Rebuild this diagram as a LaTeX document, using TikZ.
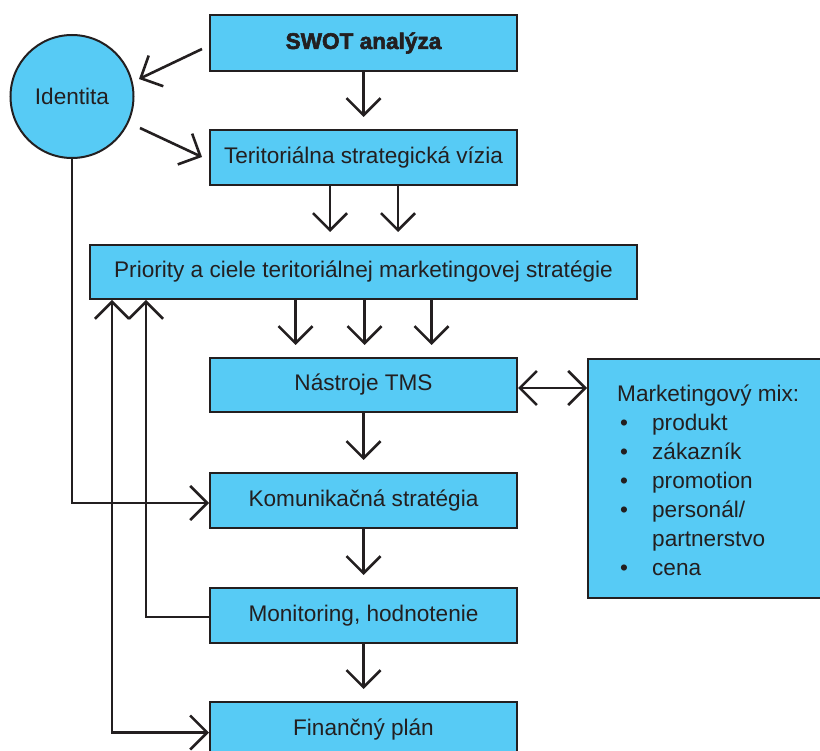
\documentclass[tikz,border=0pt]{standalone}
\usepackage{fontspec}
\setmainfont{Liberation Sans}
\newfontfamily\heavysans{Liberation Sans Bold}[FakeBold=2.5]
\usetikzlibrary{arrows.meta,calc}
\definecolor{boxfill}{RGB}{87,203,245}
\definecolor{ink}{RGB}{35,31,32}
\tikzset{
  box/.style={draw=ink, line width=2pt, fill=boxfill, rectangle, inner sep=0pt,
    minimum width=307pt, minimum height=55pt, text=ink,
    font=\fontsize{22.6}{27}\selectfont},
  conn/.style={draw=ink, line width=2.6pt},
  barb/.tip={Straight Barb[length=17pt,width=34pt,line width=2.6pt]},
  down/.style={conn, -barb, shorten >=12pt},
}
\begin{document}
\begin{tikzpicture}[x=1pt, y=-1pt]
\useasboundingbox (0,0) rectangle (820,751);

% main column of steps
\node[box, font=\fontsize{22.6}{27}\heavysans, minimum height=56pt] (swot) at (363.5,43) {SWOT analýza};
\node[box] (terit) at (363.5,157.5) {Teritoriálna strategická vízia};
\node[box, minimum width=547pt, minimum height=54pt] (prio) at (363.5,272) {Priority a ciele teritoriálnej marketingovej stratégie};
\node[box, minimum height=54pt] (nastr) at (363.5,385) {Nástroje TMS};
\node[box] (komun) at (363.5,500.5) {Komunikačná stratégia};
\node[box] (monit) at (363.5,615.5) {Monitoring, hodnotenie};
\node[box] (finan) at (363.5,729.5) {Finančný plán};

% identity circle
\node[box, circle, minimum size=123pt] (ident) at (72,96.5) {Identita};

% marketing mix panel
\node[box, minimum width=237pt, minimum height=239pt] (mix) at (706.5,478.5) {};
\node[anchor=west, align=left, inner sep=0pt, text=ink,
      font=\fontsize{22.6}{29}\selectfont] (mixtext) at (617,480)
  {Marketingový mix:\\
   \makebox[35pt][l]{\hspace{3pt}•}produkt\\
   \makebox[35pt][l]{\hspace{3pt}•}zákazník\\
   \makebox[35pt][l]{\hspace{3pt}•}promotion\\
   \makebox[35pt][l]{\hspace{3pt}•}personál/\\
   \makebox[35pt][l]{}partnerstvo\\
   \makebox[35pt][l]{\hspace{3pt}•}cena};

% vertical flow
\draw[down] (swot.south) -- (terit.north);
\draw[down] ($(terit.south)+(-33.5,0)$) -- ($(prio.north)+(-33.5,0)$);
\draw[down] ($(terit.south)+(34.5,0)$) -- ($(prio.north)+(34.5,0)$);
\draw[down] ($(prio.south)+(-68,0)$) -- ($(nastr.north)+(-68,0)$);
\draw[down] ($(prio.south)+(1,0)$) -- ($(nastr.north)+(1,0)$);
\draw[down] ($(prio.south)+(68,0)$) -- ($(nastr.north)+(68,0)$);
\draw[down] (nastr.south) -- (komun.north);
\draw[down] (komun.south) -- (monit.north);
\draw[down] (monit.south) -- (finan.north);

% identity links
\coordinate (i1s) at (202,49);
\coordinate (i1e) at (139,79);
\coordinate (i2s) at (140,128);
\coordinate (i2e) at (202,157);
\draw[conn,-barb] (i1s) -- (i1e);
\draw[conn,-barb] (i2s) -- (i2e);
\draw[conn,-barb] (ident.south) |- ($(komun.west)+(0,2.5)$);

% feedback loops on the left
\draw[conn,-barb] ($(monit.west)+(0,1.5)$) -| ($(prio.south west)+(57,0)$);
\draw[conn,barb-barb] ($(prio.south west)+(23,0)$) |- ($(finan.west)+(0,3)$);

% tools <-> marketing mix
\draw[conn,barb-barb] ($(nastr.east)+(0,3)$) -- ($(nastr.east -| mix.west)+(0,3)$);
\end{tikzpicture}
\end{document}
